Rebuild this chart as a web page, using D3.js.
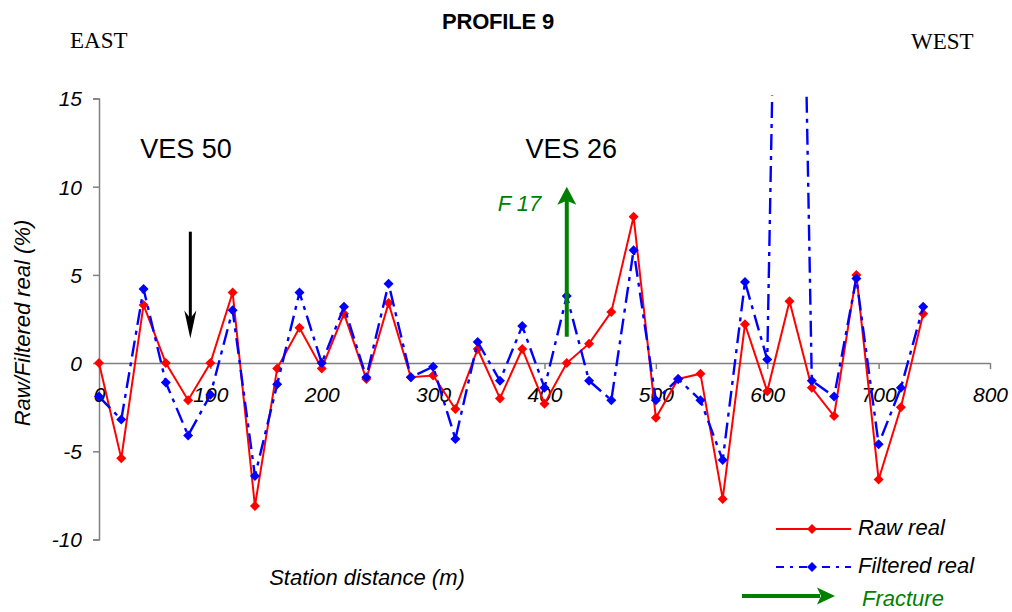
<!DOCTYPE html>
<html>
<head>
<meta charset="utf-8">
<script src="https://cdn.jsdelivr.net/npm/d3@7"></script>
<style>
  html, body { margin: 0; padding: 0; background: #fff; }
  svg { display: block; }
  text { font-family: "Liberation Sans", Arial, sans-serif; }
</style>
</head>
<body>
<svg id="chart" width="1012" height="612"></svg>
<script>
// ---- Data ----
const stations = [0,20,40,60,80,100,120,140,160,180,200,220,240,260,280,300,320,340,360,380,400,420,440,460,480,500,520,540,560,580,600,620,640,660,680,700,720,740];
const rawReal = [0,-5.4,3.3,0,-2.1,0,4.0,-8.1,-0.3,2.0,-0.3,2.8,-0.9,3.4,-0.8,-0.7,-2.6,0.8,-2.0,0.8,-2.3,0,1.1,2.9,8.3,-3.1,-0.9,-0.6,-7.7,2.2,-1.6,3.5,-1.4,-3.0,5.0,-6.6,-2.5,2.8];
const filteredReal = [-1.9,-3.2,4.2,-1.1,-4.1,-1.8,3.0,-6.4,-1.2,4.0,0,3.2,-0.8,4.5,-0.8,-0.2,-4.3,1.2,-1.0,2.1,-1.4,3.8,-1.0,-2.1,6.4,-2.1,-0.9,-2.1,-5.5,4.6,0.2,68,-1.0,-1.9,4.8,-4.6,-1.4,3.2];
const xTicks = [0,100,200,300,400,500,600,700,800];
const yTicks = [-10,-5,0,5,10,15];
const vesLabels = ["VES 50","VES 26"];
const vesStations = [37,383];
const vesLevel = [11.6,11.6];
const fractureArrow = {station: 420, from: 1.5, to: 10.0, label: "F 17", labelStation: 358, labelLevel: 8.6};
const vesArrow = {station: 82, from: 7.45, to: 1.4};
const legendLabels = ["Raw real","Filtered real","Fracture"];

// ---- Layout ----
const svg = d3.select("#chart");
const x = d3.scaleLinear().domain([0,800]).range([99,990]);
const y = d3.scaleLinear().domain([-10,15]).range([539.5,98.5]);
const axisColor = "#808080";
const red = "#ff0000", blue = "#0000ff", green = "#008000";

// Titles
svg.append("text").attr("x",498).attr("y",29).attr("text-anchor","middle")
  .style("font-weight","bold").style("font-size","22px").style("letter-spacing","-0.2px").text("PROFILE 9");
svg.append("text").attr("x",70).attr("y",48).style("font-family","'Liberation Serif', 'Times New Roman', serif")
  .style("font-size","23px").text("EAST");
svg.append("text").attr("x",911).attr("y",49).style("font-family","'Liberation Serif', 'Times New Roman', serif")
  .style("font-size","23px").text("WEST");

// Y axis
const yAxis = d3.axisLeft(y).tickValues(yTicks).tickSize(6).tickFormat(d3.format("d"));
const gy = svg.append("g").attr("transform",`translate(${x(0)},0)`).call(yAxis);
gy.select(".domain").attr("stroke",axisColor).attr("stroke-width",1.5);
gy.selectAll(".tick line").attr("stroke",axisColor).attr("stroke-width",1.5);
gy.selectAll(".tick text").attr("x",-17).attr("dy","0.35em")
  .style("font-size","21px").style("font-style","italic").style("font-family","'Liberation Sans', Arial, sans-serif").attr("fill","#000")
  .text(d => d < 0 ? "-" + Math.abs(d) : d);

// X axis at y = 0
const xAxis = d3.axisBottom(x).tickValues(xTicks).tickSize(6).tickSizeOuter(0).tickFormat(d3.format("d"));
const gx = svg.append("g").attr("transform",`translate(0,${y(0)})`).call(xAxis);
gx.select(".domain").attr("stroke",axisColor).attr("stroke-width",1.5);
gx.selectAll(".tick line").attr("stroke",axisColor).attr("stroke-width",1.5);
gx.selectAll(".tick text").attr("y",39).attr("dy",0)
  .style("font-size","21px").style("font-style","italic").style("font-family","'Liberation Sans', Arial, sans-serif").attr("fill","#000");

// Axis titles
svg.append("text").attr("x",367).attr("y",585).attr("text-anchor","middle")
  .style("font-size","22px").style("font-style","italic").text("Station distance (m)");
svg.append("text").attr("transform",`translate(30,${(y(15)+y(-10))/2 + 4}) rotate(-90)`).attr("text-anchor","middle")
  .style("font-size","22px").style("font-style","italic").text("Raw/Filtered real (%)");

// Clip
svg.append("defs").append("clipPath").attr("id","plotclip").append("rect")
  .attr("x",x(0)-10).attr("y",y(15)-3).attr("width",x(800)-x(0)+20).attr("height",y(-10)-y(15)+3);

const diamond = r => `M0,${-r}L${r},0L0,${r}L${-r},0Z`;
const rawData = stations.map((s,i)=>({s, v: rawReal[i]}));
const filtData = stations.map((s,i)=>({s, v: filteredReal[i]}));
const line = d3.line().x(d=>x(d.s)).y(d=>y(d.v));

const plot = svg.append("g").attr("clip-path","url(#plotclip)");
plot.append("path").datum(rawData).attr("d",line).attr("fill","none").attr("stroke",red).attr("stroke-width",2);
plot.selectAll(".rawpt").data(rawData).enter().append("path")
  .attr("transform",d=>`translate(${x(d.s)},${y(d.v)})`).attr("d",diamond(5)).attr("fill",red);
plot.append("path").datum(filtData).attr("d",line).attr("fill","none").attr("stroke",blue).attr("stroke-width",2.4)
  .attr("stroke-dasharray","16,6,4,6");
plot.selectAll(".filtpt").data(filtData.filter(d=>d.v<=15)).enter().append("path")
  .attr("transform",d=>`translate(${x(d.s)},${y(d.v)})`).attr("d",diamond(5)).attr("fill",blue);

// VES labels
svg.selectAll(".ves").data(vesLabels).enter().append("text")
  .attr("x",(d,i)=>x(vesStations[i])).attr("y",(d,i)=>y(vesLevel[i]))
  .style("font-size","27px").text(d=>d);

// Black arrow (VES 50), pointing down
(function(){
  const ax = x(vesArrow.station), y0 = y(vesArrow.from), y1 = y(vesArrow.to);
  svg.append("line").attr("x1",ax).attr("x2",ax).attr("y1",y0).attr("y2",y1-12).attr("stroke","#000").attr("stroke-width",3);
  svg.append("path").attr("d",`M${ax},${y1}L${ax-6},${y1-28}L${ax},${y1-20}L${ax+6},${y1-28}Z`).attr("fill","#000");
})();

// Green fracture arrow, pointing up
(function(){
  const ax = x(fractureArrow.station), y0 = y(fractureArrow.from), y1 = y(fractureArrow.to);
  svg.append("line").attr("x1",ax).attr("x2",ax).attr("y1",y0).attr("y2",y1+12).attr("stroke",green).attr("stroke-width",4);
  svg.append("path").attr("d",`M${ax},${y1}L${ax-9.5},${y1+18}L${ax},${y1+14}L${ax+9.5},${y1+18}Z`).attr("fill",green);
  svg.append("text").attr("x",x(fractureArrow.labelStation)).attr("y",y(fractureArrow.labelLevel))
    .style("font-size","22px").style("font-style","italic").attr("fill",green).text(fractureArrow.label);
})();

// Legend
const lg = svg.append("g");
lg.append("line").attr("x1",776).attr("x2",851).attr("y1",529).attr("y2",529).attr("stroke",red).attr("stroke-width",2);
lg.append("path").attr("transform","translate(812,529)").attr("d",diamond(5)).attr("fill",red);
lg.append("line").attr("x1",776).attr("x2",851).attr("y1",567).attr("y2",567).attr("stroke",blue).attr("stroke-width",2.2)
  .attr("stroke-dasharray","8,6,3,6");
lg.append("path").attr("transform","translate(812,567)").attr("d",diamond(5)).attr("fill",blue);
lg.append("line").attr("x1",742).attr("x2",820).attr("y1",596).attr("y2",596).attr("stroke",green).attr("stroke-width",4);
lg.append("path").attr("d","M835,596L817,587.5L821,596L817,604.5Z").attr("fill",green);
lg.append("text").attr("x",858).attr("y",535).style("font-size","22px").style("font-style","italic").text(legendLabels[0]);
lg.append("text").attr("x",858).attr("y",573).style("font-size","22px").style("font-style","italic").text(legendLabels[1]);
lg.append("text").attr("x",862).attr("y",606).style("font-size","22px").style("font-style","italic").attr("fill",green).text(legendLabels[2]);
</script>
</body>
</html>
